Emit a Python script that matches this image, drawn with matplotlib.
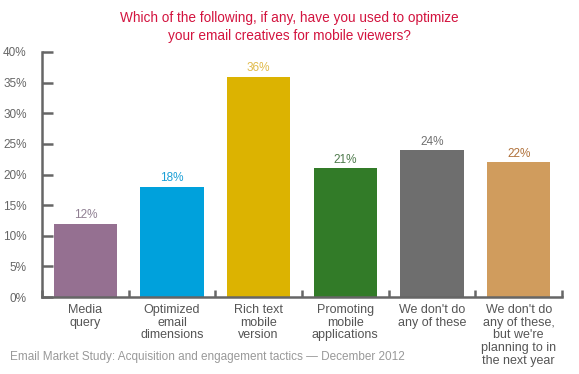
import numpy as np
from matplotlib import pyplot as plt

categories = ["Media\nquery", "Optimized\nemail\ndimensions", "Rich text\nmobile\nversion",
              "Promoting\nmobile\napplications", "We don't do\nany of these",
              "We don't do\nany of these,\nbut we're\nplanning to in\nthe next year"]
values = [12, 18, 36, 21, 24, 22]
bar_colors = ["#957091", "#00A1DC", "#DCB301", "#327B28", "#6E6E6E", "#D09C5D"]
label_colors = ["#8F7F92", "#1A9FD6", "#E0BA4A", "#4E7A4C", "#707070", "#B0713A"]
yticks = [0, 5, 10, 15, 20, 25, 30, 35, 40]

plt.rcParams['font.family'] = ['Liberation Sans', 'DejaVu Sans']

fig = plt.figure(figsize=(5.79, 3.74), dpi=100)
ax = fig.add_axes([42/579, 77/374, 520/579, 245/374])

x = np.arange(len(values))
ax.bar(x, values, width=0.73, color=bar_colors, zorder=2)
for xi, v, c in zip(x, values, label_colors):
    ax.text(xi, v + 0.4, "%d%%" % v, ha='center', va='bottom', fontsize=8.5, color=c)

ax.set_xlim(-0.5, len(values) - 0.5)
ax.set_ylim(0, 40)
ax.set_yticks(yticks)
ax.set_yticklabels(["%d%%" % t for t in yticks], fontsize=8.5, color="#666666")
ax.tick_params(axis='y', direction='in', length=8, width=1.8, color="#666666", pad=11)

ax.set_xticks(np.arange(len(values) + 1) - 0.5, minor=True)
ax.set_xticks(x)
ax.set_xticklabels(categories, fontsize=9, color="#555555", linespacing=1.08, va='top')
ax.tick_params(axis='x', which='major', length=0, pad=5)
ax.tick_params(axis='x', which='minor', direction='in', length=5, width=1.8, color="#666666")

for s in ['top', 'right']:
    ax.spines[s].set_visible(False)
for s in ['left', 'bottom']:
    ax.spines[s].set_color("#666666")
    ax.spines[s].set_linewidth(1.8)

fig.text(0.5, 1 - 27/374, "Which of the following, if any, have you used to optimize\nyour email creatives for mobile viewers?",
         ha='center', va='center', fontsize=9.8, color="#D3143F", linespacing=1.35)
fig.text(10/579, 1 - 357/374, "Email Market Study: Acquisition and engagement tactics \u2014 December 2012",
         ha='left', va='center', fontsize=8.5, color="#999999")

fig.savefig("out.png", dpi=100)
